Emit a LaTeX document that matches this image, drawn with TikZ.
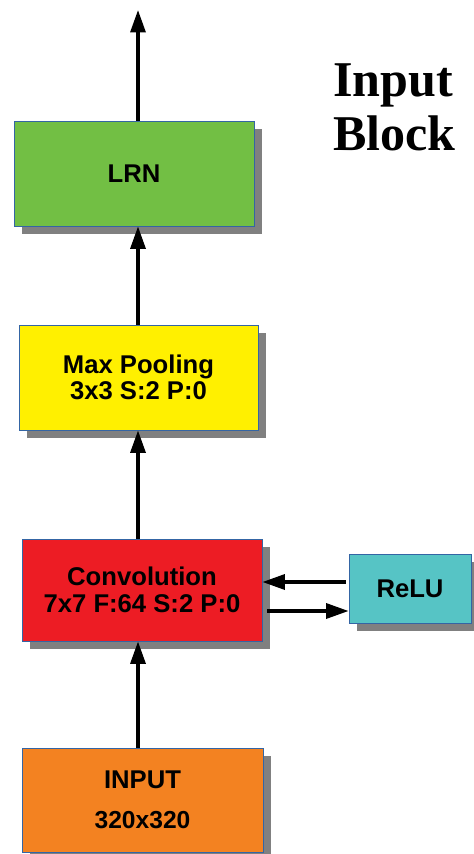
\documentclass[tikz,border=0pt]{standalone}
\usepackage{fontspec}
\setmainfont{Liberation Sans}
\newfontfamily\headfont{Liberation Serif}
\usetikzlibrary{arrows.meta,shadows}

\definecolor{lrngreen}{RGB}{114,191,68}
\definecolor{poolyellow}{RGB}{255,240,0}
\definecolor{convred}{RGB}{237,28,36}
\definecolor{inorange}{RGB}{243,130,33}
\definecolor{relucyan}{RGB}{86,196,197}
\definecolor{edgeblue}{RGB}{52,101,164}

\tikzset{
  layer/.style={rectangle, draw=edgeblue, line width=0.5pt,
                minimum width=4.8cm, minimum height=2.1cm, inner sep=0pt,
                align=center, font=\fontsize{14.6}{16}\selectfont\bfseries,
                drop shadow={shadow xshift=0.16cm, shadow yshift=-0.16cm,
                             fill=black!50, opacity=1}},
  flow/.style={line width=1.9pt, -{Triangle[length=0.45cm, width=0.3cm]}}
}

\begin{document}
\begin{tikzpicture}[x=0.02cm, y=-0.02cm]
\useasboundingbox (0,0) rectangle (473,854);

% title
\node[anchor=north west, align=left, inner sep=0pt,
      font=\headfont\fontsize{28.5}{31}\selectfont\bfseries] (title) at (333,63) {Input\\Block};

% layers
\node[layer, fill=lrngreen] (lrn) at (134,173.5) {LRN};
\node[layer, fill=poolyellow, minimum width=4.78cm] (pool) at (138.5,377.5)
      {Max Pooling\\[-1pt]3x3 S:2 P:0};
\node[layer, fill=convred, minimum height=2.04cm] (conv) at (142,590)
      {Convolution\\[-1pt]7x7 F:64 S:2 P:0};
\node[layer, fill=relucyan, minimum width=2.44cm, minimum height=1.38cm] (relu) at (410,588.5) {ReLU};
\node[layer, fill=inorange, minimum width=4.82cm, minimum height=2.08cm] (input) at (142.5,800)
      {INPUT\\[7pt]{\fontsize{14}{16}\selectfont 320x320}};

% connectors
\coordinate (spine) at (138,0);
\coordinate (out) at (138,10);
\coordinate (back) at (0,582);
\coordinate (fwd) at (0,611);
\draw[flow] (input.north -| spine) -- (conv.south -| spine);
\draw[flow] (conv.north -| spine) -- (pool.south -| spine);
\draw[flow] (pool.north -| spine) -- (lrn.south -| spine);
\draw[flow] (lrn.north -| spine) -- (out);
\draw[flow] (relu.west |- back) ++(-3,0) -- (conv.east |- back);
\draw[flow] ([xshift=0.1cm]conv.east |- fwd) -- (relu.west |- fwd);
\end{tikzpicture}
\end{document}
